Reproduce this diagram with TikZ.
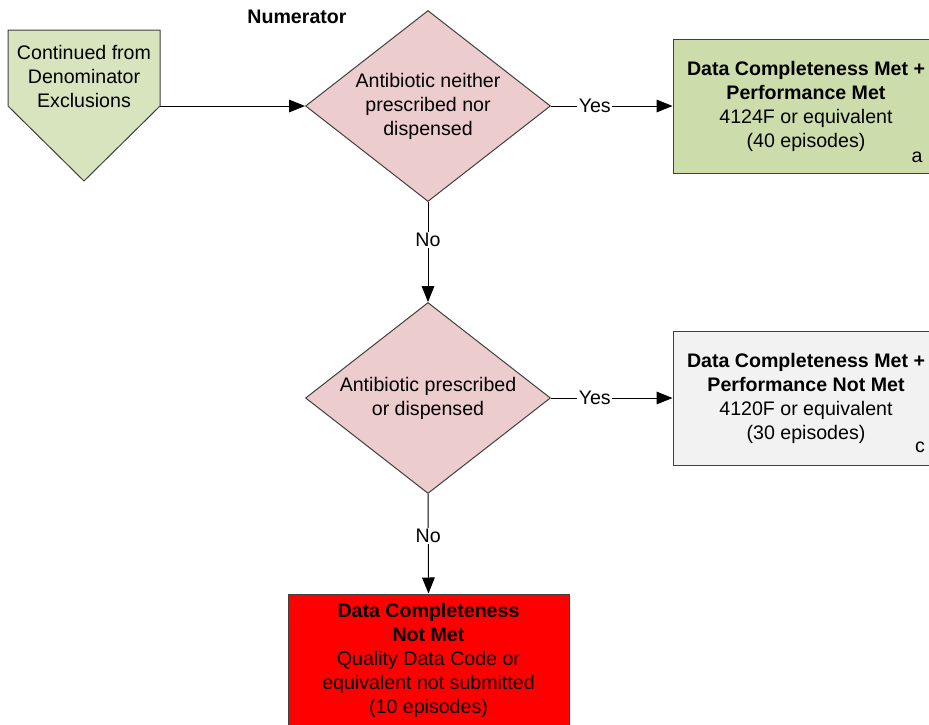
\documentclass[tikz,border=0pt]{standalone}
\usepackage{fontspec}
\setmainfont{Liberation Sans}
\usepackage{tikz}
\usetikzlibrary{arrows.meta,shapes.geometric,positioning}
\definecolor{startgreen}{HTML}{D7E4BD}
\definecolor{metgreen}{HTML}{CDDCAB}
\definecolor{decpink}{HTML}{ECCCCC}
\definecolor{notmetgray}{HTML}{F2F2F2}
\definecolor{missred}{HTML}{FF0000}
\definecolor{edgegray}{HTML}{404040}

\begin{document}
\begin{tikzpicture}[x=0.75pt,y=-0.75pt,
  font=\fontsize{14.7}{18}\selectfont,
  decision/.style={diamond,draw=edgegray,fill=decpink,line width=0.75pt,shape aspect=1.2,
    minimum width=183.75pt,minimum height=143.25pt,inner sep=0pt,align=center},
  outcome/.style={rectangle,draw=edgegray,line width=0.75pt,
    minimum width=199.5pt,minimum height=100.5pt,align=center},
  flow/.style={-{Triangle[length=12pt,width=9.5pt]},line width=0.75pt},
  lbl/.style={fill=white,inner sep=1pt}]
\useasboundingbox (0,0) rectangle (929,725);

% start connector
\draw[draw=edgegray,fill=startgreen,line width=0.75pt]
  (8,30) -- (160,30) -- (160,106) -- (84,181) -- (8,106) -- cycle;
\coordinate (contout) at (160,106);
\node[align=center] (cont) at (84,76) {Continued from\\Denominator\\Exclusions};

\node[font=\fontsize{14.7}{18}\selectfont\bfseries] (numlbl) at (297,17) {Numerator};

% decisions
\node[decision] (neither) at (428,106) {Antibiotic neither\\prescribed nor\\dispensed};
\node[decision] (presc) at (428,398) {Antibiotic prescribed\\or dispensed};

% outcomes
\node[outcome,fill=metgreen] (meta) at (806,106)
  {\textbf{Data Completeness Met +}\\\textbf{Performance Met}\\4124F or equivalent\\(40 episodes)};
\node (taga) at (917,157) {a};
\node[outcome,fill=notmetgray] (metc) at (806,398)
  {\textbf{Data Completeness Met +}\\\textbf{Performance Not Met}\\4120F or equivalent\\(30 episodes)};
\node (tagc) at (920,447) {c};
\node[outcome,fill=missred,minimum width=210.75pt,minimum height=99pt] (notmet) at (428.5,660)
  {\textbf{Data Completeness}\\\textbf{Not Met}\\Quality Data Code or\\equivalent not submitted\\(10 episodes)};

% connectors
\draw[flow] (contout) -- (neither.west);
\draw[flow] (neither.east) -- node[lbl,pos=0.36] {Yes} (meta.west);
\draw[flow] (neither.south) -- node[lbl,pos=0.38] {No} (presc.north);
\draw[flow] (presc.east) -- node[lbl,pos=0.36] {Yes} (metc.west);
\draw[flow] (presc.south) -- node[lbl,pos=0.42] {No} (notmet.north);
\end{tikzpicture}
\end{document}
